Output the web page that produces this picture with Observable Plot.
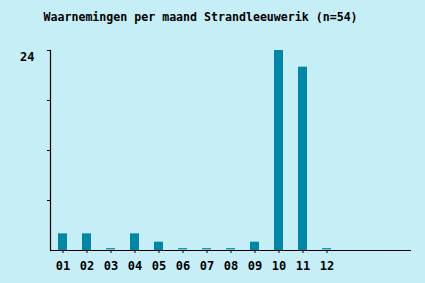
<!DOCTYPE html>
<html>
<head>
<meta charset="utf-8">
<script src="https://cdn.jsdelivr.net/npm/d3@7"></script>
<script src="https://cdn.jsdelivr.net/npm/@observablehq/plot@0.6"></script>
<style>
  html, body { margin: 0; padding: 0; background: #c6eef6; }
  #chart svg { display: block; }
</style>
</head>
<body>
<div id="chart"></div>
<script>
const title = "Waarnemingen per maand Strandleeuwerik (n=54)";
const months = ["01","02","03","04","05","06","07","08","09","10","11","12"];
const counts = [2, 2, 0, 2, 1, 0, 0, 0, 1, 24, 22, 0];
const emptySlots = ["13","14","15"];
const yTicks = [6, 12, 18, 24];
const yLabels = [24];

const data = months.map((m, i) => ({month: m, count: counts[i]}));
const font = "'DejaVu Sans Mono', monospace";

const chart = Plot.plot({
  width: 425,
  height: 283,
  marginLeft: 50,
  marginRight: 14,
  marginTop: 50,
  marginBottom: 33,
  style: {background: "#c6eef6", fontFamily: font, fontWeight: "bold", fontSize: "11px", color: "#000"},
  x: {type: "band", domain: months.concat(emptySlots), paddingInner: 0.625, paddingOuter: 0.3125},
  y: {domain: [0, 24]},
  marks: [
    Plot.barY(data.filter(d => d.count > 0), {x: "month", y: "count", fill: "#0086a6"}),
    Plot.barY(data.filter(d => d.count === 0), {x: "month", y1: 0, y2: 0, insetTop: -2, insetBottom: 0.5, fill: "#1a9ab6"}),
    Plot.ruleY([0], {stroke: "#000", strokeWidth: 1.2}),
    Plot.frame({anchor: "left", stroke: "#000", strokeWidth: 1.2}),
    Plot.axisX({ticks: months, tickSize: 3, tickPadding: 8, label: null, fontSize: 12, fontWeight: "bold"}),
    Plot.axisY({ticks: yTicks, tickSize: 3, tickFormat: () => "", label: null}),
    Plot.text(yLabels, {x: () => months[0], y: d => d, text: d => String(d), dx: -43, dy: 7, textAnchor: "start", fontSize: 12, fontWeight: "bold"}),
    Plot.text([title], {frameAnchor: "top-left", dx: -7, dy: -38, textAnchor: "start", fontSize: 11.6, fontWeight: "bold"})
  ]
});
document.getElementById("chart").appendChild(chart);
</script>
</body>
</html>
